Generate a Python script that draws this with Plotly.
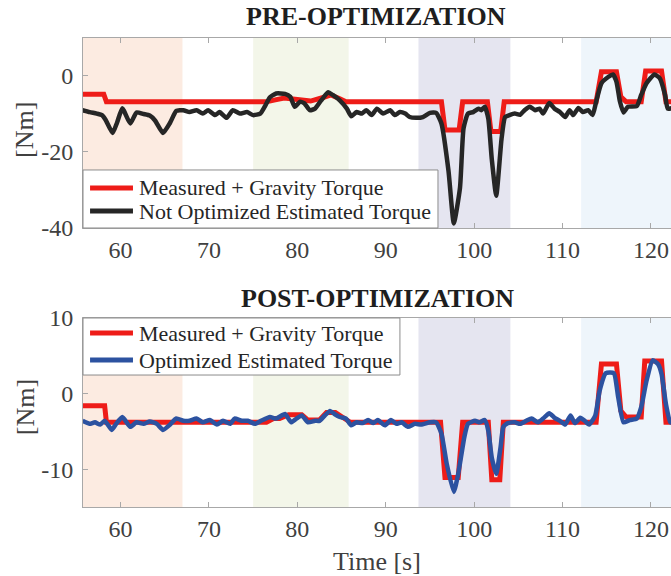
import plotly.graph_objects as go

# ---------------- data ----------------
# Pre-optimization: measured + gravity torque (step-like reference)
pre_meas_t = [55.7, 58.1, 58.4, 76.5, 77.5, 78.5, 80.0, 81.5, 83.0, 83.8, 84.8, 85.5,
              96.3, 96.7, 98.3, 98.7, 101.5, 101.9, 103.0, 103.4, 113.8, 114.4, 116.1,
              116.6, 117.2, 117.6, 118.9, 119.4, 121.2, 121.7, 122.5]
pre_meas_v = [-4.8, -4.8, -6.8, -6.8, -6.3, -5.8, -6.2, -6.6, -5.6, -5.0, -6.0, -6.8,
              -6.8, -14.2, -14.2, -6.8, -6.8, -14.6, -14.6, -6.8, -6.8, 1.1, 1.1,
              -5.5, -6.8, -6.8, -6.8, 1.3, 1.3, -6.8, -6.8]

# Pre-optimization: not optimized estimated torque
pre_est_t = [55.7, 56.5, 57.3, 57.9, 58.3, 59.1, 59.6, 60.2, 61.1, 61.8, 62.6, 63.3, 63.9,
             64.8, 65.6, 66.3, 67.1, 67.8, 68.6, 69.3, 69.9, 70.7, 71.2, 72.0, 72.7, 73.5,
             74.3, 75.0, 75.8, 76.3, 76.9, 77.6, 78.6, 79.2, 79.7, 80.3, 80.8, 81.4, 82.0,
             82.7, 83.5, 84.0, 84.8, 85.6, 86.1, 86.7, 87.3, 87.8, 88.4, 89.0, 89.7, 90.5,
             91.0, 91.6, 92.2, 92.7, 93.5, 94.2, 95.0, 95.7, 96.3, 97.1, 97.7, 98.4, 98.8,
             99.3, 99.9, 100.5, 100.8, 101.2, 101.6, 102.0, 102.5, 103.1, 103.5, 104.0,
             104.6, 105.2, 105.7, 106.3, 106.9, 107.4, 107.8, 108.5, 109.1, 109.7, 110.3,
             110.8, 111.2, 111.8, 112.3, 112.9, 113.4, 113.8, 114.4, 115.2, 115.7, 116.1,
             116.5, 116.9, 117.4, 118.4, 118.9, 119.5, 120.4, 121.0, 121.6, 121.9, 122.5]
pre_est_v = [-9.0, -9.5, -9.9, -10.3, -11.5, -15.0, -12.3, -8.5, -12.5, -9.6, -10.0, -10.4, -11.7,
             -15.0, -12.3, -9.2, -9.0, -9.5, -9.0, -9.9, -9.0, -10.3, -9.5, -11.0, -9.0, -9.9,
             -9.5, -10.3, -9.9, -8.1, -5.6, -4.6, -4.7, -5.5, -8.1, -6.8, -7.2, -9.0, -8.6,
             -6.4, -4.3, -5.0, -6.4, -8.6, -10.6, -9.5, -9.9, -9.0, -10.3, -8.6, -9.9, -9.0,
             -10.3, -9.5, -9.9, -10.8, -11.0, -10.8, -9.7, -9.7, -12.5, -25.0, -38.8, -29.4, -13.8,
             -9.9, -9.5, -8.6, -9.0, -8.1, -11.2, -22.0, -31.5, -16.5, -10.8, -10.3,
             -9.9, -10.2, -9.0, -8.1, -9.0, -8.6, -9.9, -7.1, -8.6, -9.5, -10.8,
             -9.0, -10.3, -8.4, -9.5, -9.0, -10.3, -6.8, -1.9, -0.2, 0.4, -1.5,
             -6.8, -9.6, -8.1, -7.9, -5.0, -1.9, 0.4, -0.6, -5.0, -8.6, -8.4]

# Post-optimization: measured + gravity torque
post_meas_t = [55.7, 58.2, 58.4, 76.5, 77.3, 78.0, 79.0, 80.5, 81.2, 82.5, 83.3, 84.3, 85.2,
               86.0, 96.2, 96.7, 98.2, 98.7, 101.6, 102.0, 102.9, 103.3, 113.8, 114.4, 116.1,
               116.6, 117.2, 117.6, 118.9, 119.3, 121.2, 121.7, 122.5]
post_meas_v = [-1.6, -1.6, -3.8, -3.8, -3.3, -3.3, -2.8, -2.8, -3.5, -3.5, -2.5, -2.5, -3.2,
               -3.8, -3.8, -11.1, -11.1, -3.8, -3.8, -11.4, -11.4, -3.8, -3.8, 3.9, 3.9,
               -2.3, -3.1, -3.1, -3.1, 4.3, 4.3, -3.8, -3.8]

# Post-optimization: optimized estimated torque
post_est_t = [55.7, 56.5, 57.1, 57.7, 58.2, 59.0, 59.5, 60.2, 61.1, 61.8, 62.6, 63.3, 64.1,
              64.8, 65.6, 66.3, 67.1, 67.8, 68.6, 69.3, 70.1, 70.9, 71.6, 72.4, 72.9, 73.7,
              74.4, 75.2, 75.9, 76.9, 77.6, 78.6, 79.3, 79.9, 80.5, 81.2, 82.0, 82.5, 83.1,
              83.7, 84.2, 84.8, 85.5, 86.1, 86.7, 87.4, 88.0, 88.6, 89.1, 89.9, 90.6, 91.2,
              91.8, 92.5, 93.3, 94.0, 95.0, 95.7, 96.3, 96.9, 97.7, 98.2, 98.9, 99.3, 100.1,
              100.6, 101.2, 101.6, 102.0, 102.5, 103.0, 103.3, 103.8, 104.6, 105.2, 105.9,
              106.5, 107.2, 107.8, 108.5, 109.1, 109.7, 110.3, 110.9, 111.4, 112.0, 112.5,
              113.0, 113.7, 114.2, 114.9, 115.8, 116.3, 116.9, 117.6, 118.4, 118.9, 119.5,
              120.2, 120.8, 121.2, 121.7, 122.2, 122.5]
post_est_v = [-3.6, -4.0, -3.8, -4.1, -3.6, -4.8, -4.0, -3.1, -4.4, -3.8, -4.0, -3.7, -4.0,
              -4.8, -4.1, -3.3, -3.6, -3.6, -3.3, -3.8, -3.5, -4.1, -3.6, -4.0, -3.3, -3.6,
              -3.6, -4.0, -3.6, -3.1, -3.3, -2.7, -3.8, -3.3, -2.9, -3.8, -3.6, -3.6, -2.9,
              -2.3, -2.7, -3.1, -3.3, -4.2, -3.8, -3.9, -3.5, -3.9, -3.5, -4.2, -3.5, -4.0,
              -3.8, -4.4, -4.0, -4.1, -3.8, -3.8, -5.3, -9.3, -13.0, -10.6, -5.7, -4.0, -3.6,
              -3.8, -3.5, -4.9, -8.5, -10.6, -7.0, -4.4, -3.9, -3.8, -4.0, -3.6,
              -3.3, -3.8, -3.3, -2.6, -3.2, -3.6, -4.1, -2.9, -3.9, -3.2, -3.6,
              -4.1, -2.9, 0.4, 2.7, 2.7, -0.5, -3.8, -3.5, -3.3, -1.8, 1.7,
              4.4, 3.9, 2.6, -1.4, -3.8, -3.8]

# Experiment phases (time intervals, s)
phase_start = [55.7, 75.0, 93.7, 112.1]
phase_end = [67.0, 85.8, 104.1, 122.5]

x_ticks = [60, 70, 80, 90, 100, 110, 120]
y1_ticks = [-40, -20, 0]
y2_ticks = [-10, 0, 10]

series_names = ["Measured + Gravity Torque", "Not Optimized Estimated Torque",
                "Optimized Estimated Torque"]

# ---------------- style ----------------
SERIF = "Liberation Serif, Times New Roman, serif"
RED = "rgb(238,28,24)"
BLACK = "rgb(38,38,38)"
BLUE = "rgb(44,82,160)"
PHASE_FILL = ["rgba(251,230,217,0.8)", "rgba(239,243,226,0.75)",
              "rgba(224,224,237,0.85)", "rgba(235,243,250,0.85)"]
AXIS_GREY = "#a8a8a8"
TICK_FONT = dict(family=SERIF, size=24, color="#404040")
LW_MEAS = 5
LW_EST = 4.5


def tick_text(vals):
    # plain hyphen-minus for negative labels
    return [str(v) for v in vals]


fig = go.Figure()

fig.add_trace(go.Scatter(x=pre_meas_t, y=pre_meas_v, mode="lines", name=series_names[0],
                         line=dict(color=RED, width=LW_MEAS),
                         xaxis="x", yaxis="y", showlegend=False))
fig.add_trace(go.Scatter(x=pre_est_t, y=pre_est_v, mode="lines", name=series_names[1],
                         line=dict(color=BLACK, width=LW_EST, shape="spline", smoothing=0.5),
                         xaxis="x", yaxis="y", showlegend=False))
fig.add_trace(go.Scatter(x=post_meas_t, y=post_meas_v, mode="lines", name=series_names[0],
                         line=dict(color=RED, width=LW_MEAS),
                         xaxis="x2", yaxis="y2", showlegend=False))
fig.add_trace(go.Scatter(x=post_est_t, y=post_est_v, mode="lines", name=series_names[2],
                         line=dict(color=BLUE, width=LW_EST, shape="spline", smoothing=0.5),
                         xaxis="x2", yaxis="y2", showlegend=False))

# shaded phases in both panels
shapes = []
for yref in ["y domain", "y2 domain"]:
    xref = "x" if yref == "y domain" else "x2"
    for s, e, c in zip(phase_start, phase_end, PHASE_FILL):
        shapes.append(dict(type="rect", xref=xref, yref=yref, x0=s, x1=e, y0=0, y1=1,
                           fillcolor=c, line=dict(width=0), layer="below"))

annotations = []


def add_legend_box(x1, y0, y1, rows):
    """Boxed legend in paper coordinates: rows = [(y, colour, label), ...]."""
    shapes.append(dict(type="rect", xref="paper", yref="paper", x0=0, x1=x1, y0=y0, y1=y1,
                       fillcolor="white", line=dict(color="#8c8c8c", width=1),
                       layer="above"))
    for y, colour, label in rows:
        shapes.append(dict(type="line", xref="paper", yref="paper", x0=0.012, x1=0.085,
                           y0=y, y1=y, line=dict(color=colour, width=5), layer="above"))
        annotations.append(dict(text=label, xref="paper", yref="paper", x=0.091, y=y,
                                xanchor="left", yanchor="middle", showarrow=False,
                                font=dict(family=SERIF, size=22, color="#262626")))


add_legend_box(0.6037, 0.5949, 0.7186,
               [(0.6802, RED, series_names[0]), (0.6311, BLACK, series_names[1])])
add_legend_box(0.539, 0.2814, 0.403,
               [(0.371, RED, series_names[0]), (0.3134, BLUE, series_names[2])])

xcommon = dict(range=[55.75, 122.27], tickvals=x_ticks, ticks="inside", ticklen=5,
               tickcolor=AXIS_GREY, showline=True, linecolor=AXIS_GREY, linewidth=1,
               mirror="ticks", showgrid=False, zeroline=False, tickfont=TICK_FONT)
ycommon = dict(ticks="inside", ticklen=5, tickcolor=AXIS_GREY, showline=True,
               linecolor=AXIS_GREY, linewidth=1, mirror=False, showgrid=False,
               zeroline=False, tickfont=TICK_FONT, ticklabelstandoff=4)

annotations += [
    dict(text="<b>PRE-OPTIMIZATION</b>", xref="paper", yref="paper", x=0.498, y=1.045,
         showarrow=False, xanchor="center", yanchor="middle",
         font=dict(family=SERIF, size=26, color="#1e1e1e")),
    dict(text="<b>POST-OPTIMIZATION</b>", xref="paper", yref="paper", x=0.5, y=0.4456,
         showarrow=False, xanchor="center", yanchor="middle",
         font=dict(family=SERIF, size=26, color="#1e1e1e")),
    dict(text="[Nm]", xref="paper", yref="paper", x=-0.0986, y=0.804, textangle=-90,
         showarrow=False, xanchor="center", yanchor="middle",
         font=dict(family=SERIF, size=26, color="#404040")),
    dict(text="[Nm]", xref="paper", yref="paper", x=-0.0986, y=0.213, textangle=-90,
         showarrow=False, xanchor="center", yanchor="middle",
         font=dict(family=SERIF, size=26, color="#404040")),
    dict(text="Time [s]", xref="paper", yref="paper", x=0.5, y=-0.117,
         showarrow=False, xanchor="center", yanchor="middle",
         font=dict(family=SERIF, size=26, color="#404040")),
]

fig.update_layout(
    width=671, height=576,
    margin=dict(l=83, r=0, t=38, b=69),
    paper_bgcolor="white", plot_bgcolor="white",
    xaxis=dict(domain=[0, 1], anchor="y", **xcommon),
    yaxis=dict(domain=[0.595, 1.0], anchor="x", range=[-40, 10],
               tickvals=y1_ticks, ticktext=tick_text(y1_ticks), **ycommon),
    xaxis2=dict(domain=[0, 1], anchor="y2", **xcommon),
    yaxis2=dict(domain=[0.0, 0.403], anchor="x2", range=[-15, 10],
                tickvals=y2_ticks, ticktext=tick_text(y2_ticks), **ycommon),
    shapes=shapes,
    annotations=annotations,
    showlegend=False,
)

fig.write_html("out.html")
